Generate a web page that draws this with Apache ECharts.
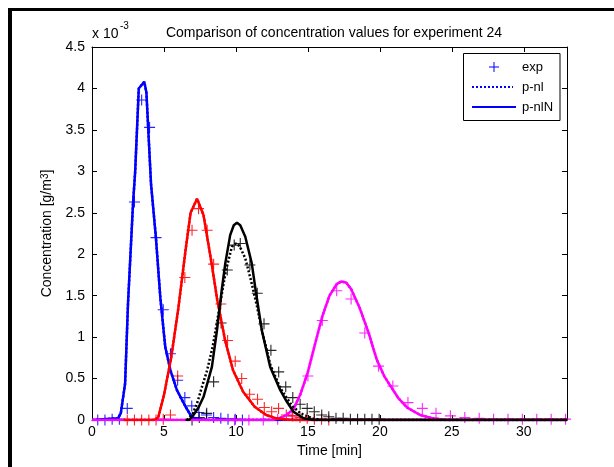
<!DOCTYPE html>
<html>
<head>
<meta charset="utf-8">
<script src="https://cdn.jsdelivr.net/npm/echarts@6/dist/echarts.min.js"></script>
<style>html,body{margin:0;padding:0;background:#fff}#c{width:614px;height:467px}</style>
</head>
<body>
<div id="c"></div>
<script>
// values in units of 1e-3 g/m^3, time in minutes
const xTicks = [0, 5, 10, 15, 20, 25, 30];
const yTicks = [0, 0.5, 1, 1.5, 2, 2.5, 3, 3.5, 4, 4.5];

const blueExp = [[0.4,0],[0.9,0],[1.4,0.01],[1.9,0.01],[2.45,0.14],[2.95,2.63],[3.45,3.86],[4.0,3.53],[4.45,2.2],[4.95,1.33],[5.45,0.8],[5.95,0.48],[6.45,0.27],[6.93,0.17],[7.42,0.09],[7.95,0.06],[8.45,0.03],[8.95,0.02],[9.45,0.01],[9.95,0.01],[10.45,0]];
const blueNl  = [[0,0],[1.8,0.02],[2.0,0.08],[2.3,0.44],[2.5,1.4],[2.85,2.61],[3.0,3.0],[3.25,4.0],[3.63,4.08],[3.78,3.95],[4.1,2.85],[4.44,2.2],[4.75,1.47],[5.09,0.88],[5.45,0.6],[5.9,0.36],[6.5,0.16],[6.95,0.03],[7.5,0.01],[8,0],[33,0]];
const blueNlN = [[0,0],[1.8,0.02],[2.0,0.08],[2.3,0.44],[2.5,1.4],[2.85,2.61],[3.0,3.0],[3.25,4.0],[3.63,4.08],[3.78,3.95],[4.1,2.85],[4.44,2.2],[4.75,1.47],[5.09,0.88],[5.45,0.6],[5.9,0.36],[6.5,0.16],[6.95,0.03],[7.5,0.01],[8,0],[33,0]];

const redExp = [[2.45,0],[2.95,0],[3.45,0],[3.95,0],[4.45,0],[4.95,0.01],[5.45,0.06],[5.95,0.53],[6.45,1.72],[6.95,2.29],[7.4,2.55],[8.0,2.29],[8.45,1.88],[8.95,1.40],[9.42,0.96],[9.95,0.71],[10.4,0.50],[10.95,0.31],[11.5,0.25],[11.97,0.15],[12.48,0.10],[12.96,0.14],[13.5,0.06],[13.95,0.05],[14.45,0.03],[14.95,0.02],[15.45,0.01],[15.95,0.01],[16.45,0]];
const redNl  = [[2.2,0],[4.3,0],[4.6,0.03],[5.0,0.3],[5.5,0.75],[6.0,1.35],[6.5,2.05],[6.85,2.5],[7.3,2.67],[7.75,2.47],[8.3,1.9],[8.7,1.45],[9.25,0.96],[9.8,0.6],[10.5,0.34],[11.3,0.16],[12.1,0.06],[12.8,0.02],[13.5,0.005],[14,0],[33,0]];
const redNlN = [[2.2,0],[4.3,0],[4.6,0.03],[5.0,0.3],[5.5,0.75],[6.0,1.35],[6.5,2.05],[6.85,2.5],[7.3,2.67],[7.75,2.47],[8.3,1.9],[8.7,1.45],[9.25,0.96],[9.8,0.6],[10.5,0.34],[11.3,0.16],[12.1,0.06],[12.8,0.02],[13.5,0.005],[14,0],[33,0]];

const blackExp = [[6.95,0],[7.45,0.03],[7.97,0.08],[8.45,0.46],[8.97,1.17],[9.4,1.81],[9.88,2.11],[10.3,2.13],[10.97,1.87],[11.48,1.53],[11.95,1.16],[12.43,0.84],[12.97,0.58],[13.46,0.40],[13.95,0.27],[14.46,0.19],[14.95,0.14],[15.44,0.10],[15.96,0.06],[16.45,0.04],[16.95,0.02],[17.45,0.02],[17.95,0.01],[18.45,0.01],[18.95,0.01],[19.45,0.01],[19.95,0.01]];
const blackNl  = [[6.6,0],[7.0,0.08],[7.3,0.2],[7.64,0.40],[8.0,0.6],[8.4,0.9],[8.9,1.4],[9.3,1.8],[9.72,2.09],[9.98,2.13],[10.25,2.1],[10.65,1.95],[11.05,1.68],[11.45,1.38],[11.85,1.05],[12.4,0.66],[13.1,0.38],[13.9,0.17],[14.5,0.08],[15.3,0.02],[16,0],[33,0]];
const blackNlN = [[6.5,0],[6.75,0],[7.05,0.06],[7.4,0.15],[7.75,0.28],[8.33,0.64],[8.68,1.08],[9.0,1.55],[9.26,1.89],[9.6,2.23],[9.85,2.35],[10.07,2.38],[10.3,2.35],[10.65,2.21],[11.1,1.89],[11.38,1.55],[11.8,1.08],[12.38,0.64],[13.08,0.36],[13.54,0.22],[14.0,0.10],[14.7,0.02],[15.4,0],[33,0]];

const magExp = [[9.9,0],[10.9,0],[11.9,0],[12.9,0.01],[13.9,0.05],[15.0,0.53],[16.0,1.2],[17.0,1.56],[18.0,1.46],[18.95,1.05],[19.9,0.65],[20.9,0.41],[21.95,0.21],[22.95,0.14],[23.9,0.08],[24.9,0.05],[25.9,0.03],[26.9,0.02],[27.9,0.01],[28.9,0.01],[29.9,0.01],[30.9,0.01],[31.9,0.01],[32.9,0.01]];
const magNl  = [[0,0],[12.5,0],[13.0,0.02],[13.5,0.06],[14.0,0.13],[14.5,0.32],[15.0,0.58],[15.5,0.92],[16.0,1.25],[16.5,1.5],[17.0,1.64],[17.3,1.67],[17.65,1.66],[18.0,1.58],[18.6,1.35],[19.2,1.06],[19.8,0.72],[20.3,0.53],[20.7,0.42],[21.3,0.26],[21.9,0.15],[22.8,0.06],[23.7,0.02],[24.6,0],[33,0]];
const magNlN = [[0,0],[12.5,0],[13.0,0.02],[13.5,0.06],[14.0,0.13],[14.5,0.32],[15.0,0.58],[15.5,0.92],[16.0,1.25],[16.5,1.5],[17.0,1.64],[17.3,1.67],[17.65,1.66],[18.0,1.58],[18.6,1.35],[19.2,1.06],[19.8,0.72],[20.3,0.53],[20.7,0.42],[21.3,0.26],[21.9,0.15],[22.8,0.06],[23.7,0.02],[24.6,0],[33,0]];

const groups = [
  {color:'#0000ff', exp: blueExp, nl: blueNl, nlN: blueNlN},
  {color:'#ff00ff', exp: magExp, nl: magNl, nlN: magNlN},
  {color:'#ff0000', exp: redExp, nl: redNl, nlN: redNlN},
  {color:'#000000', exp: blackExp, nl: blackNl, nlN: blackNlN}
];

const FONT = 'Liberation Sans, Arial, sans-serif';
const PLUS = 'path://M4.5,0H5.5V4.5H10V5.5H5.5V10H4.5V5.5H0V4.5H4.5Z';

const series = [];
groups.forEach(g => {
  series.push({type:'line', data:g.nlN, showSymbol:false, smooth:false, lineStyle:{color:g.color, width:2.5}, silent:true});
  series.push({type:'line', data:g.nl, showSymbol:false, smooth:false, lineStyle:{color:g.color, width:2.5, type:[2,2]}, silent:true});
  series.push({type:'scatter', data:g.exp, symbol:PLUS, symbolSize:11, itemStyle:{color:g.color, opacity:0.85}, silent:true});
});

const axisCommon = {
  axisLine:{show:true, onZero:false, lineStyle:{color:'#000', width:1}},
  axisTick:{show:true, inside:true, length:5, lineStyle:{color:'#000'}},
  splitLine:{show:false}
};

const chart = echarts.init(document.getElementById('c'), null, {renderer:'canvas'});
chart.setOption({
  animation:false,
  backgroundColor:'#fff',
  title:{text:'Comparison of concentration values for experiment 24', left:329, top:21, textAlign:'center',
    textStyle:{fontFamily:FONT, fontSize:14, fontWeight:'normal', color:'#000'}},
  grid:{left:92, right:47, top:47, bottom:47},
  xAxis:[
    Object.assign({type:'value', position:'bottom', min:0, max:33, interval:5,
      name:'Time [min]', nameLocation:'middle', nameGap:24,
      nameTextStyle:{fontFamily:FONT, fontSize:14, color:'#000'},
      axisLabel:{margin:5, fontFamily:FONT, fontSize:14, color:'#000', showMaxLabel:false,
        formatter:v => xTicks.indexOf(v) >= 0 ? String(v) : ''}}, axisCommon),
    Object.assign({type:'value', position:'top', min:0, max:33, interval:5, axisLabel:{show:false}}, axisCommon)
  ],
  yAxis:[
    Object.assign({type:'value', position:'left', min:0, max:4.5, interval:0.5,
      name:'Concentration [g/m{s|3}]', nameLocation:'middle', nameGap:32,
      nameTextStyle:{fontFamily:FONT, fontSize:14, color:'#000',
        rich:{s:{fontFamily:FONT, fontSize:10, verticalAlign:'top', color:'#000'}}},
      axisLabel:{margin:7, fontFamily:FONT, fontSize:14, color:'#000',
        formatter:v => yTicks.indexOf(v) >= 0 ? String(v) : ''}}, axisCommon),
    Object.assign({type:'value', position:'right', min:0, max:4.5, interval:0.5, axisLabel:{show:false}}, axisCommon)
  ],
  series: series,
  graphic:[
    {type:'rect', shape:{x:8, y:8, width:4, height:459}, style:{fill:'#000'}},
    {type:'rect', shape:{x:8, y:8, width:606, height:3}, style:{fill:'#000'}},
    {type:'text', x:92, y:34, style:{text:'x 10', font:'14px '+FONT, fill:'#000', verticalAlign:'middle'}},
    {type:'text', x:120, y:26, style:{text:'-3', font:'10px '+FONT, fill:'#000', verticalAlign:'middle'}},
    {type:'rect', shape:{x:463.5, y:53.5, width:96.5, height:67}, style:{fill:'#fff', stroke:'#000', lineWidth:1}, z:100},
    {type:'line', shape:{x1:489, y1:67, x2:499, y2:67}, style:{stroke:'#0000ff', lineWidth:1}, z:101},
    {type:'line', shape:{x1:494, y1:62, x2:494, y2:72}, style:{stroke:'#0000ff', lineWidth:1}, z:101},
    {type:'text', x:522, y:67, style:{text:'exp', font:'13px '+FONT, fill:'#000', verticalAlign:'middle'}, z:101},
    {type:'line', shape:{x1:472, y1:87, x2:513, y2:87}, style:{stroke:'#0000ff', lineWidth:2, lineDash:[2,2]}, z:101},
    {type:'text', x:522, y:87, style:{text:'p-nl', font:'13px '+FONT, fill:'#000', verticalAlign:'middle'}, z:101},
    {type:'line', shape:{x1:472, y1:107, x2:516, y2:107}, style:{stroke:'#0000ff', lineWidth:2}, z:101},
    {type:'text', x:522, y:107, style:{text:'p-nlN', font:'13px '+FONT, fill:'#000', verticalAlign:'middle'}, z:101}
  ]
});
</script>
</body>
</html>
